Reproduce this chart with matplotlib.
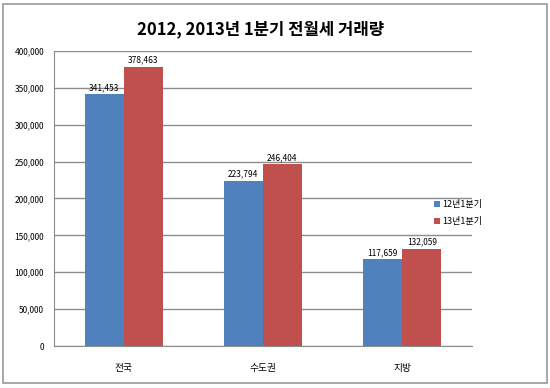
import matplotlib
matplotlib.use("Agg")
import matplotlib.pyplot as plt
from matplotlib.patches import Rectangle
from matplotlib.ticker import FuncFormatter
import numpy as np

plt.rcParams['font.family'] = ['Noto Sans CJK KR', 'DejaVu Sans']

regions = ["전국", "수도권", "지방"]
q1_2012 = [341453, 223794, 117659]
q1_2013 = [378463, 246404, 132059]
series_names = ["12년1분기", "13년1분기"]

fig = plt.figure(figsize=(5.5, 3.88), dpi=100)
fig.patches.append(Rectangle((0.006, 0.012), 0.988, 0.978, transform=fig.transFigure,
                             fill=False, edgecolor="#9a9a9a", linewidth=1.2))
ax = fig.add_axes([0.098, 0.108, 0.76, 0.761])

x = np.arange(len(regions))
w = 0.28
b1 = ax.bar(x - w / 2, q1_2012, w, color="#4f81bd", label=series_names[0], zorder=3)
b2 = ax.bar(x + w / 2, q1_2013, w, color="#c0504d", label=series_names[1], zorder=3)

for bars, vals in [(b1, q1_2012), (b2, q1_2013)]:
    for bar, v in zip(bars, vals):
        ax.text(bar.get_x() + bar.get_width() / 2, v + 3000, f"{v:,}",
                ha="center", va="bottom", fontsize=6)

ax.set_xlim(-0.5, 2.5)
ax.set_ylim(0, 400000)
ax.set_yticks(np.arange(0, 400001, 50000))
ax.yaxis.set_major_formatter(FuncFormatter(lambda v, p: f"{int(v):,}"))
ax.set_xticks(x)
ax.set_xticklabels(regions)
ax.tick_params(axis="y", length=0, labelsize=6, pad=7)
ax.tick_params(axis="x", length=0, labelsize=7, pad=12)
ax.grid(axis="y", color="#8c8c8c", linewidth=1, zorder=0)
for s in ["top", "right"]:
    ax.spines[s].set_visible(False)
ax.spines["left"].set_color("#8c8c8c")
ax.spines["bottom"].set_color("#8c8c8c")

fig.text(0.473, 0.925, "2012, 2013년 1분기 전월세 거래량", ha="center", va="center",
         fontsize=12, fontweight="bold")
fig.legend(handles=[b1, b2], labels=series_names, loc="center left",
           bbox_to_anchor=(0.775, 0.45), frameon=False, fontsize=6.5,
           handlelength=0.6, handleheight=0.6, handletextpad=0.3, labelspacing=0.9)

fig.savefig("out.png", dpi=100)
